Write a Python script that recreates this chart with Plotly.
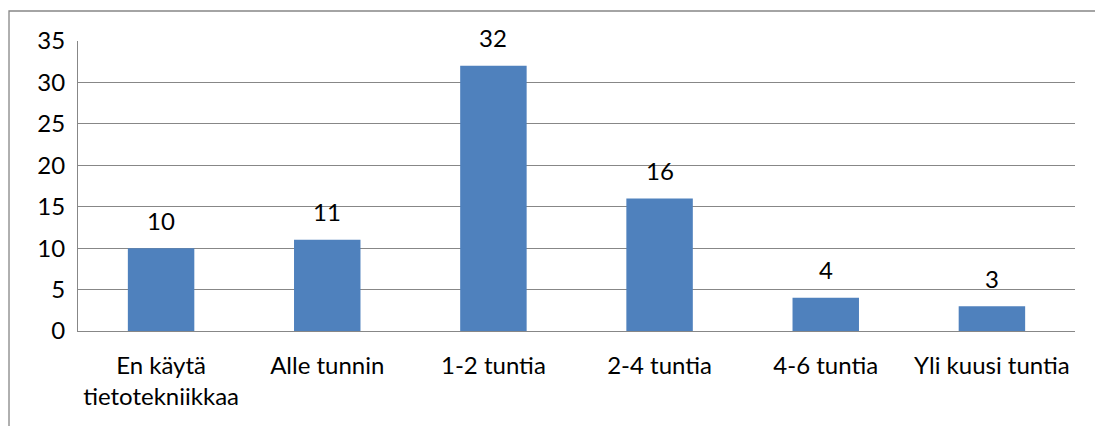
import plotly.graph_objects as go

categories = ["En käytä<br>tietotekniikkaa", "Alle tunnin", "1-2 tuntia", "2-4 tuntia", "4-6 tuntia", "Yli kuusi tuntia"]
values = [10, 11, 32, 16, 4, 3]
y_ticks = [0, 5, 10, 15, 20, 25, 30, 35]

FONT = "Lato"
FS = 24
GRID = "#878787"

fig = go.Figure()
fig.add_trace(go.Bar(
    x=categories, y=values,
    marker=dict(color="#4F81BD", line=dict(width=0)),
    width=0.4,
))

for c, v in zip(categories, values):
    fig.add_annotation(x=c, y=v, text=str(v), showarrow=False,
                       yshift=28, font=dict(family=FONT, size=FS, color="#000"))

fig.add_shape(type="rect", xref="paper", yref="paper",
              x0=-0.0692, x1=1.2, y0=-0.6, y1=1.1034,
              line=dict(color="#868686", width=1.3), fillcolor="rgba(0,0,0,0)", layer="below")

fig.update_layout(
    template="none",
    width=1095, height=418,
    margin=dict(l=70, r=28, t=33, b=95),
    paper_bgcolor="white", plot_bgcolor="white",
    showlegend=False,
    font=dict(family=FONT, size=FS, color="#000"),
    bargap=0.6,
)
fig.update_xaxes(
    showline=True, linecolor=GRID, linewidth=1,
    showgrid=False, ticks="", ticklabelstandoff=13,
    tickfont=dict(family=FONT, size=FS), automargin=False,
)
fig.update_yaxes(
    range=[0, 35], tickvals=y_ticks,
    showline=True, linecolor=GRID, linewidth=1,
    showgrid=True, gridcolor=GRID, gridwidth=1,
    zeroline=False, ticks="outside", ticklen=7, tickcolor="rgba(0,0,0,0)",
    tickfont=dict(family=FONT, size=FS), automargin=False,
)

fig.write_html("out.html")
